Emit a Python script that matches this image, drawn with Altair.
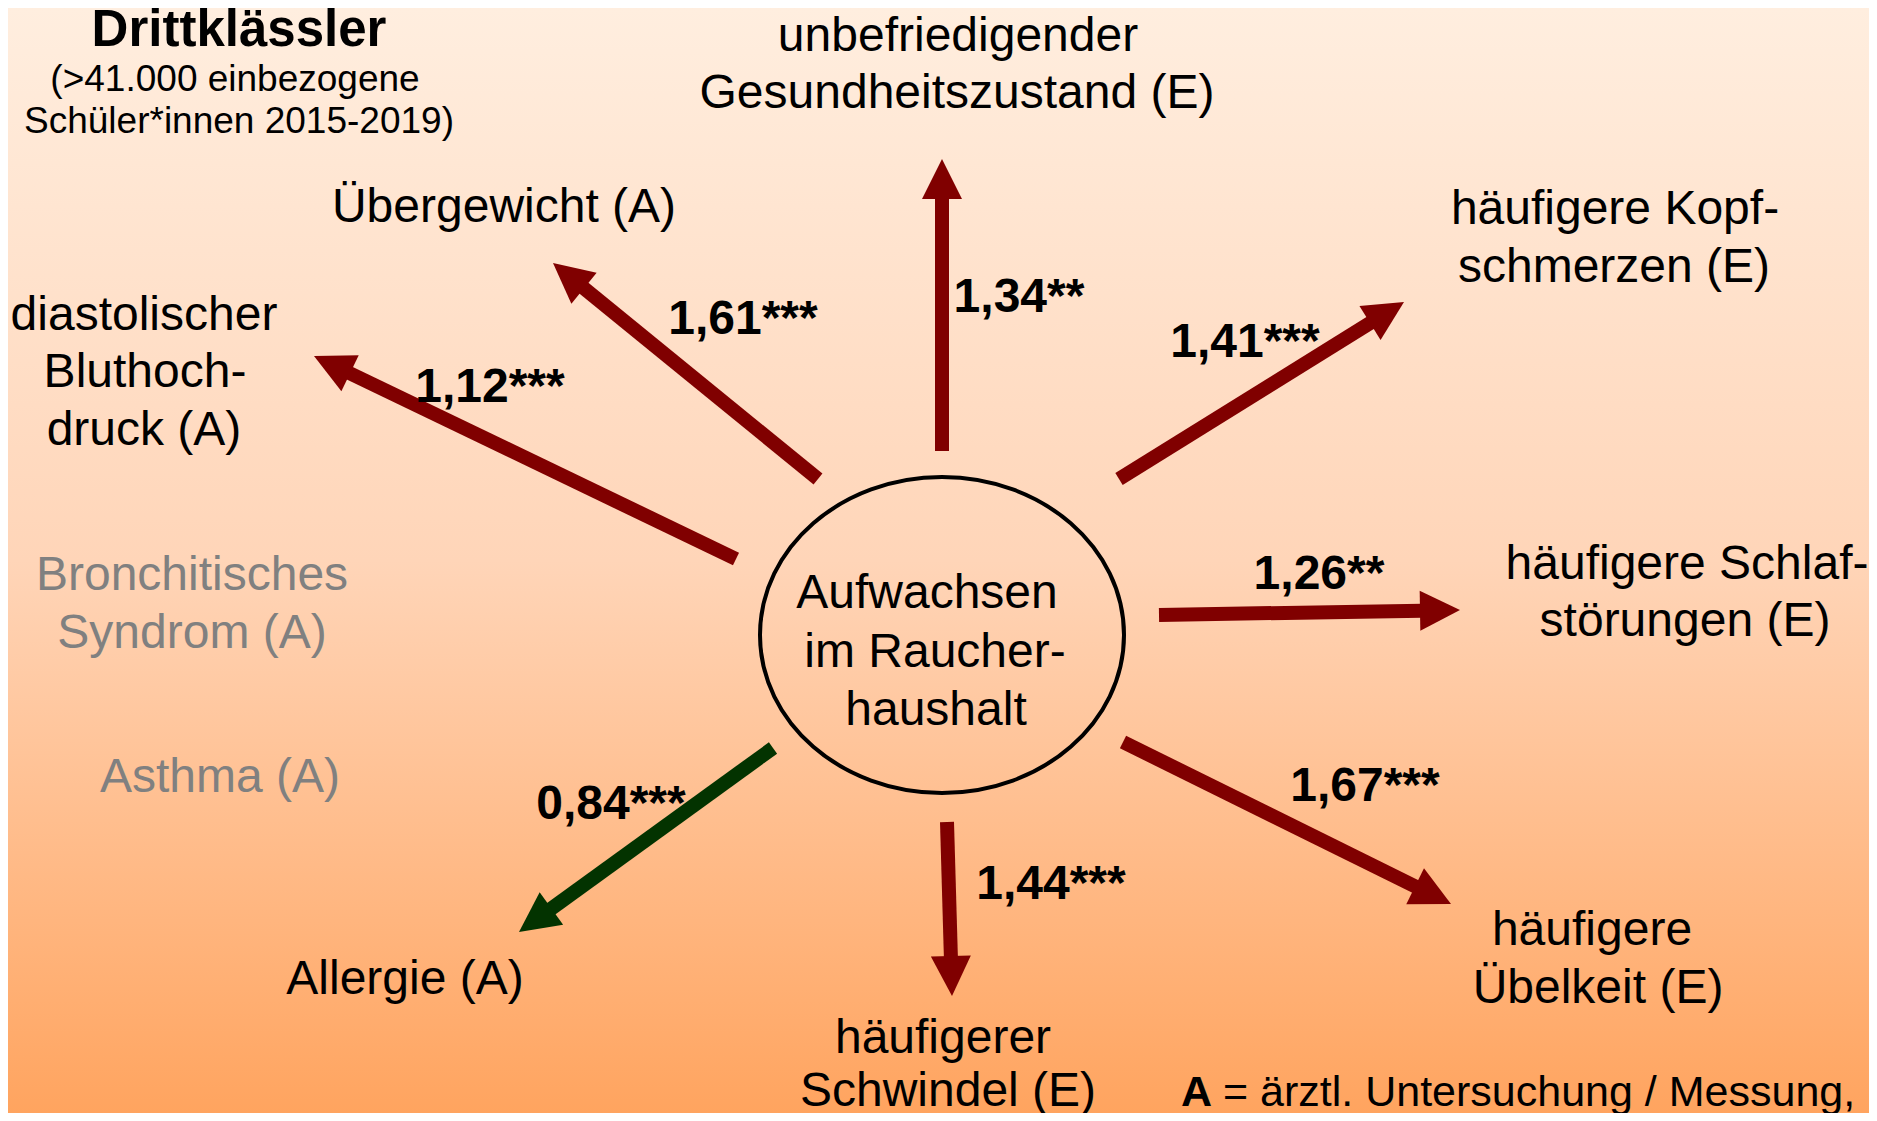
import altair as alt
import pandas as pd
import numpy as np

# ---------------- data (reference pixel coordinates) ----------------
odds_ratio = [1.34, 1.41, 1.26, 1.67, 1.44, 0.84, 1.12, 1.61]
odds_text = ["1,34**", "1,41***", "1,26**", "1,67***", "1,44***", "0,84***", "1,12***", "1,61***"]
arrow_from_x = [942, 1119, 1159, 1123, 947, 773, 736, 818]
arrow_from_y = [451, 479, 615, 742, 822, 748, 559, 479]
arrow_tip_x = [942, 1404, 1460, 1451, 952, 519, 314, 553]
arrow_tip_y = [159, 302, 610, 904, 996, 932, 356, 263]
value_x = [1019, 1245, 1319, 1365, 1051, 611, 490, 743]
value_y = [312, 357, 589, 801, 899, 819, 402, 334]

outcome_lines = ["unbefriedigender", "Gesundheitszustand (E)", "Übergewicht (A)",
                 "häufigere Kopf-", "schmerzen (E)", "diastolischer", "Bluthoch-", "druck (A)",
                 "häufigere Schlaf-", "störungen (E)", "Allergie (A)", "häufigerer", "Schwindel (E)",
                 "häufigere", "Übelkeit (E)"]
outcome_x = [958, 957, 504, 1615, 1614, 144, 145, 144, 1687, 1685, 405, 943, 948, 1592, 1598]
outcome_y = [51, 108, 222, 224, 282, 330, 387, 445, 579, 636, 994, 1053, 1106, 945, 1003]

grey_lines = ["Bronchitisches", "Syndrom (A)", "Asthma (A)"]
grey_x = [192, 192, 220]
grey_y = [590, 648, 792]

center_lines = ["Aufwachsen", "im Raucher-", "haushalt"]
center_x = [927, 935, 936]
center_y = [608, 667, 725]
ellipse_x = [942]
ellipse_y = [635]

title_lines = ["Drittklässler"]
title_x = [239]
title_y = [46]
subtitle_lines = ["(>41.000 einbezogene", "Schüler*innen 2015-2019)"]
subtitle_x = [235, 239]
subtitle_y = [91, 133]

foot_bold = ["A"]
foot_rest = ["= ärztl. Untersuchung / Messung,"]
foot_bold_x = [1181]
foot_rest_x = [1223]
foot_y = [1106]

# ---------------- derived tables ----------------
HEAD = 40.0
arr = pd.DataFrame({"or": odds_ratio, "x0": arrow_from_x, "y0": arrow_from_y,
                    "xt": arrow_tip_x, "yt": arrow_tip_y})
dx = arr["xt"] - arr["x0"]
dy = arr["yt"] - arr["y0"]
ln = np.sqrt(dx ** 2 + dy ** 2)
ux, uy = dx / ln, dy / ln
arr["xs"] = arr["xt"] - ux * (HEAD - 2)
arr["ys"] = arr["yt"] - uy * (HEAD - 2)
arr["xh"] = arr["xt"] - ux * HEAD / 2
arr["yh"] = arr["yt"] - uy * HEAD / 2
arr["angle"] = (np.degrees(np.arctan2(dx, -dy)) + 360) % 360
arr["col"] = np.where(arr["or"] < 1, "#033300", "#800000")

FONT = "Liberation Sans"
W, H = 1861, 1105
xs = alt.Scale(domain=[8, 8 + W], nice=False, zero=False)
ys = alt.Scale(domain=[8, 8 + H], nice=False, zero=False, reverse=True)


def X(f):
    return alt.X(f, type="quantitative", scale=xs, axis=None)


def Y(f):
    return alt.Y(f, type="quantitative", scale=ys, axis=None)


bg = alt.Chart(pd.DataFrame({"a": [0]})).mark_rect(
    fill=alt.Gradient(gradient="linear", x1=0, x2=0, y1=0, y2=1,
                      stops=[alt.GradientStop(color="#FFEEDF", offset=0),
                             alt.GradientStop(color="#FFD5B8", offset=0.5),
                             alt.GradientStop(color="#FFA45F", offset=1)])
).encode(x=alt.value(0), x2=alt.value(W), y=alt.value(0), y2=alt.value(H))

shafts = alt.Chart(arr).mark_rule(strokeWidth=14, strokeCap="butt").encode(
    x=X("x0"), y=Y("y0"), x2="xs:Q", y2="ys:Q",
    color=alt.Color("col:N", scale=None))

heads = alt.Chart(arr).mark_point(shape="M0,-1L1,1L-1,1Z", filled=True, opacity=1,
                                  size=HEAD * HEAD, strokeWidth=0).encode(
    x=X("xh"), y=Y("yh"), angle=alt.Angle("angle:Q", scale=None),
    color=alt.Color("col:N", scale=None))

k = 0.5523
r = 158 / 182
ell_path = (f"M1,0C1,{k*r:.4f} {k},{r:.4f} 0,{r:.4f}"
            f"C{-k},{r:.4f} -1,{k*r:.4f} -1,0"
            f"C-1,{-k*r:.4f} {-k},{-r:.4f} 0,{-r:.4f}"
            f"C{k},{-r:.4f} 1,{-k*r:.4f} 1,0Z")
ellipse = alt.Chart(pd.DataFrame({"x": ellipse_x, "y": ellipse_y})).mark_point(
    shape=ell_path, filled=False, opacity=1, stroke="black", strokeWidth=4,
    size=364 * 364).encode(x=X("x"), y=Y("y"))


def texts(lines, x, y, size, color="black", bold=False, align="center"):
    df = pd.DataFrame({"t": lines, "x": x, "y": y})
    return alt.Chart(df).mark_text(font=FONT, fontSize=size, color=color,
                                   fontWeight="bold" if bold else "normal",
                                   align=align, baseline="alphabetic").encode(
        x=X("x"), y=Y("y"), text="t:N")


chart = alt.layer(
    bg, shafts, heads, ellipse,
    texts(outcome_lines, outcome_x, outcome_y, 48),
    texts(grey_lines, grey_x, grey_y, 48, color="#808080"),
    texts(center_lines, center_x, center_y, 48),
    texts(odds_text, value_x, value_y, 48, bold=True),
    texts(title_lines, title_x, title_y, 51, bold=True),
    texts(subtitle_lines, subtitle_x, subtitle_y, 37),
    texts(foot_bold, foot_bold_x, foot_y, 43, bold=True, align="left"),
    texts(foot_rest, foot_rest_x, foot_y, 43, align="left"),
).properties(width=W, height=H, padding=0, autosize="none").configure_view(stroke=None)

chart.save("out.html", embed_options={"renderer": "svg", "actions": False})
